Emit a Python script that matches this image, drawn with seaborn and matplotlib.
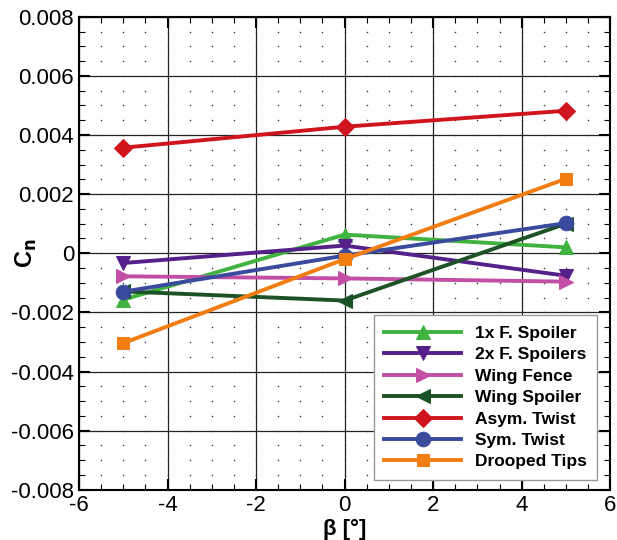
import pandas as pd
import numpy as np
import seaborn as sns
import matplotlib
matplotlib.use('Agg')
import matplotlib.pyplot as plt
from matplotlib.ticker import MultipleLocator

beta = [-5, 0, 5]
series_names = ['1x F. Spoiler', '2x F. Spoilers', 'Wing Fence', 'Wing Spoiler',
                'Asym. Twist', 'Sym. Twist', 'Drooped Tips']
spoiler_1x = [-0.00157, 0.00063, 0.00020]
spoilers_2x = [-0.00033, 0.00026, -0.00076]
wing_fence = [-0.00078, -0.00085, -0.00096]
wing_spoiler = [-0.00129, -0.00160, 0.00100]
asym_twist = [0.00357, 0.00428, 0.00482]
sym_twist = [-0.00130, -0.00008, 0.00102]
drooped_tips = [-0.00304, -0.00020, 0.00252]

x_ticks = [-6, -4, -2, 0, 2, 4, 6]
y_ticks = [-0.008, -0.006, -0.004, -0.002, 0, 0.002, 0.004, 0.006, 0.008]
y_ticklabels = ['-0.008', '-0.006', '-0.004', '-0.002', '0', '0.002', '0.004', '0.006', '0.008']

colors = ['#3fb23f', '#55208a', '#c24ea6', '#1d5226', '#d0151f', '#3a4a9c', '#f27d12']
markers = ['^', 'v', '>', '<', 'D', 'o', 's']
msizes = [9.5, 9.5, 10, 10, 9.5, 10.5, 8.5]

all_vals = [spoiler_1x, spoilers_2x, wing_fence, wing_spoiler, asym_twist, sym_twist, drooped_tips]
df = pd.DataFrame({
    'beta': beta * len(series_names),
    'Cn': np.concatenate(all_vals),
    'config': np.repeat(series_names, len(beta)),
})

plt.rcParams['font.family'] = ['Liberation Sans', 'DejaVu Sans']
plt.rcParams['axes.unicode_minus'] = False
fig = plt.figure(figsize=(6.17, 5.4), dpi=100)
ax = fig.add_axes([0.128, 0.093, 0.861, 0.876])

for name, c, m, ms in zip(series_names, colors, markers, msizes):
    sub = df[df['config'] == name]
    sns.lineplot(data=sub, x='beta', y='Cn', ax=ax, color=c, marker=m, markersize=ms,
                 markeredgecolor=c, linewidth=2.8, label=name, zorder=3)

ax.set_xticks(x_ticks)
ax.set_yticks(y_ticks)
ax.set_yticklabels(y_ticklabels)
ax.xaxis.set_minor_locator(MultipleLocator(0.5))
ax.yaxis.set_minor_locator(MultipleLocator(0.0005))
ax.set_xlim(-6, 6)
ax.set_ylim(-0.008, 0.008)

# dotted minor grid: dots at minor intersections
gx, gy = np.meshgrid(np.arange(-6, 6.01, 0.5), np.arange(-0.008, 0.00801, 0.0005))
ax.scatter(gx.ravel(), gy.ravel(), s=1.2, color='#333333', linewidths=0, zorder=1)
ax.grid(which='major', color='#222222', linewidth=0.9, zorder=1)
ax.set_axisbelow(True)
ax.tick_params(which='both', direction='in', top=True, right=True, labelsize=16)
ax.tick_params(which='major', length=8, width=1.5)
ax.tick_params(which='minor', length=4, width=0.8)
for s in ax.spines.values():
    s.set_linewidth(1.5)

ax.set_xlabel('β [°]', fontsize=16, fontweight='bold', labelpad=2)
ax.set_ylabel('C$_\\mathbf{n}$', fontsize=17, fontweight='bold')
ax.yaxis.set_label_coords(-0.075, 0.5)

leg = ax.legend(loc='lower right', bbox_to_anchor=(0.975, 0.021), borderaxespad=0,
                fancybox=False, framealpha=1, edgecolor='#999999',
                prop={'weight': 'bold', 'size': 12.5},
                handlelength=4.4, handletextpad=0.8, labelspacing=0.36, borderpad=0.6)
leg.get_frame().set_linewidth(1)

fig.savefig('out.png', dpi=100)
